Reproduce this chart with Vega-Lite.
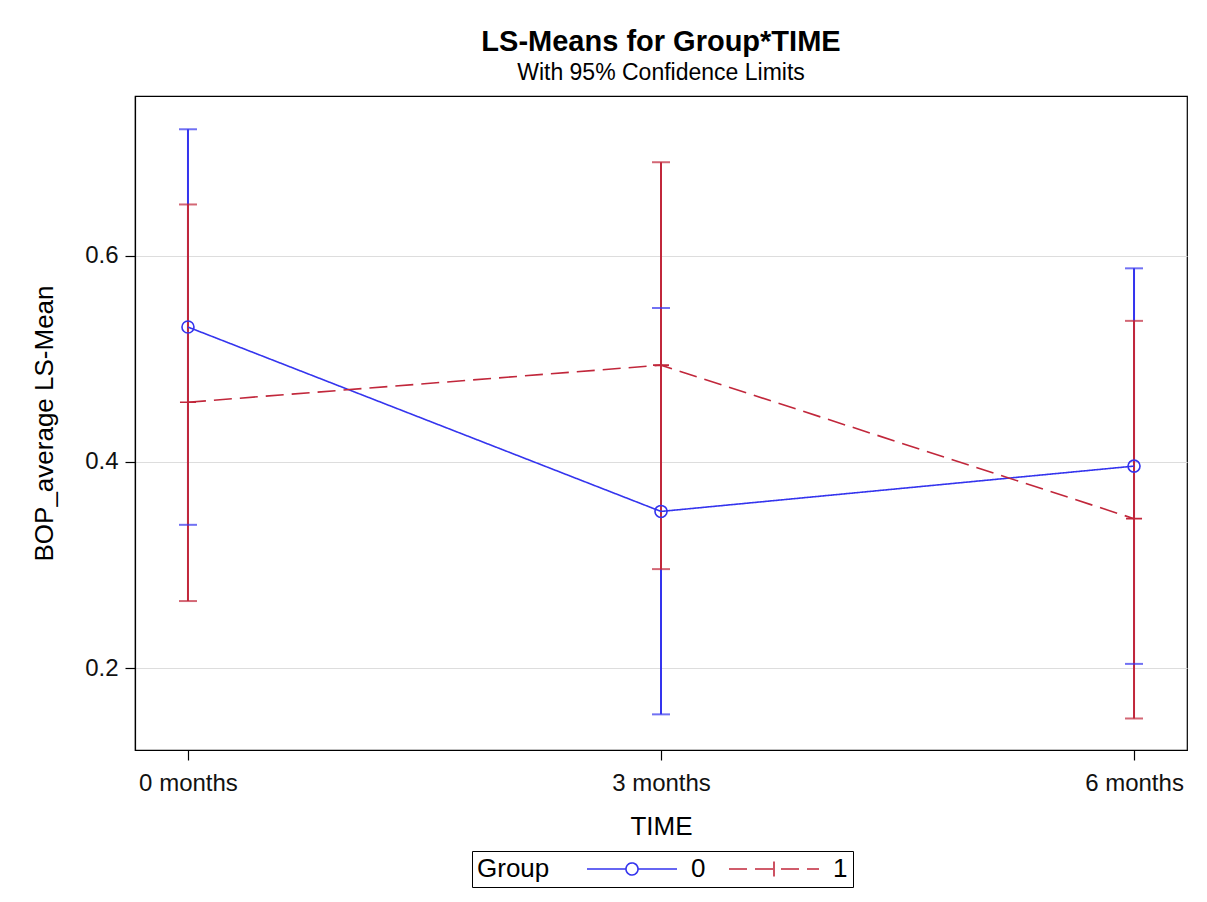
{
  "$schema": "https://vega.github.io/schema/vega-lite/v6.json",
  "autosize": {"type": "none"},
  "width": 1052,
  "height": 654,
  "padding": {"left": 135, "top": 96, "right": 20, "bottom": 152},
  "background": "white",
  "title": {
    "text": "LS-Means for Group*TIME",
    "subtitle": "With 95% Confidence Limits",
    "anchor": "middle",
    "font": "Liberation Sans",
    "fontSize": 29,
    "fontWeight": "bold",
    "color": "black",
    "subtitleFont": "Liberation Sans",
    "subtitleFontSize": 23,
    "subtitleColor": "black",
    "subtitlePadding": 5,
    "offset": 11
  },
  "data": {
    "values": [
      {"TIME": "0 months", "Group": "0", "mean": 0.531, "lower": 0.339, "upper": 0.723},
      {"TIME": "3 months", "Group": "0", "mean": 0.352, "lower": 0.155, "upper": 0.5495},
      {"TIME": "6 months", "Group": "0", "mean": 0.396, "lower": 0.204, "upper": 0.588},
      {"TIME": "0 months", "Group": "1", "mean": 0.458, "lower": 0.265, "upper": 0.650},
      {"TIME": "3 months", "Group": "1", "mean": 0.494, "lower": 0.296, "upper": 0.691},
      {"TIME": "6 months", "Group": "1", "mean": 0.345, "lower": 0.151, "upper": 0.537}
    ]
  },
  "encoding": {
    "x": {
      "field": "TIME",
      "type": "ordinal",
      "sort": ["0 months", "3 months", "6 months"],
      "scale": {"type": "point", "padding": 0.112},
      "axis": {"title": "TIME", "labelAngle": 0, "grid": false}
    },
    "color": {
      "field": "Group",
      "type": "nominal",
      "scale": {"domain": ["0", "1"], "range": ["#3434EE", "#C1273B"]},
      "legend": {
        "orient": "none",
        "legendX": 337,
        "legendY": 755,
        "direction": "horizontal",
        "title": "Group",
        "titleOrient": "left",
        "titleFont": "Liberation Sans",
        "titleFontSize": 26,
        "titleFontWeight": "normal",
        "titleColor": "black",
        "titlePadding": 34,
        "labelFont": "Liberation Sans",
        "labelFontSize": 26,
        "labelColor": "black",
        "labelOffset": 81,
        "columnPadding": 19,
        "symbolSize": 400,
        "symbolStrokeWidth": 1.6,
        "symbolFillColor": "transparent",
        "strokeColor": "black",
        "padding": 5,
        "encode": {
          "symbols": {
            "update": {
              "shape": {"signal": "datum.value === '0' ? 'M-1,0H2.9M4.1,0H8M4.1,0A0.6,0.6 0 1 1 2.9,0A0.6,0.6 0 1 1 4.1,0' : 'M-1,0H8M3.5,-0.75V0.75'"},
              "fill": {"value": "transparent"},
              "fillOpacity": {"value": 0},
              "strokeWidth": {"value": 1.6}
            }
          }
        }
      }
    }
  },
  "layer": [
    {
      "mark": {"type": "rule", "strokeWidth": 2},
      "encoding": {
        "y": {
          "field": "lower",
          "type": "quantitative",
          "scale": {"domain": [0.1204, 0.7553], "nice": false, "zero": false},
          "axis": {"title": "BOP_average LS-Mean", "values": [0.2, 0.4, 0.6], "format": ".1f"}
        },
        "y2": {"field": "upper"}
      }
    },
    {
      "mark": {"type": "tick", "thickness": 2, "size": 18},
      "encoding": {"y": {"field": "lower", "type": "quantitative"}}
    },
    {
      "mark": {"type": "tick", "thickness": 2, "size": 18},
      "encoding": {"y": {"field": "upper", "type": "quantitative"}}
    },
    {
      "mark": {"type": "line", "strokeWidth": 1.6},
      "encoding": {
        "y": {"field": "mean", "type": "quantitative"},
        "strokeDash": {
          "field": "Group",
          "type": "nominal",
          "scale": {"domain": ["0", "1"], "range": [[1, 0], [18, 8]]}
        }
      }
    },
    {
      "transform": [{"filter": "datum.Group === '0'"}],
      "mark": {"type": "point", "shape": "circle", "size": 144, "filled": false, "strokeWidth": 1.6, "opacity": 1},
      "encoding": {"y": {"field": "mean", "type": "quantitative"}}
    },
    {
      "transform": [{"filter": "datum.Group === '1'"}],
      "mark": {"type": "point", "shape": "M-1,0H1M0,-1V1", "size": 256, "filled": false, "strokeWidth": 1.6, "opacity": 1},
      "encoding": {"y": {"field": "mean", "type": "quantitative"}}
    }
  ],
  "config": {
    "view": {"stroke": "black", "strokeWidth": 1.2},
    "axis": {
      "labelFont": "Liberation Sans",
      "labelFontSize": 24,
      "labelColor": "#111",
      "titleFont": "Liberation Sans",
      "titleFontSize": 26,
      "titleFontWeight": "normal",
      "titleColor": "black",
      "domainColor": "black",
      "domainWidth": 1.2,
      "tickColor": "black",
      "tickSize": 10,
      "tickWidth": 1.2,
      "gridColor": "#DDDDDD",
      "gridWidth": 1.2
    },
    "axisX": {"labelPadding": 11, "titlePadding": 18},
    "axisY": {"labelPadding": 7, "titlePadding": 27}
  }
}
